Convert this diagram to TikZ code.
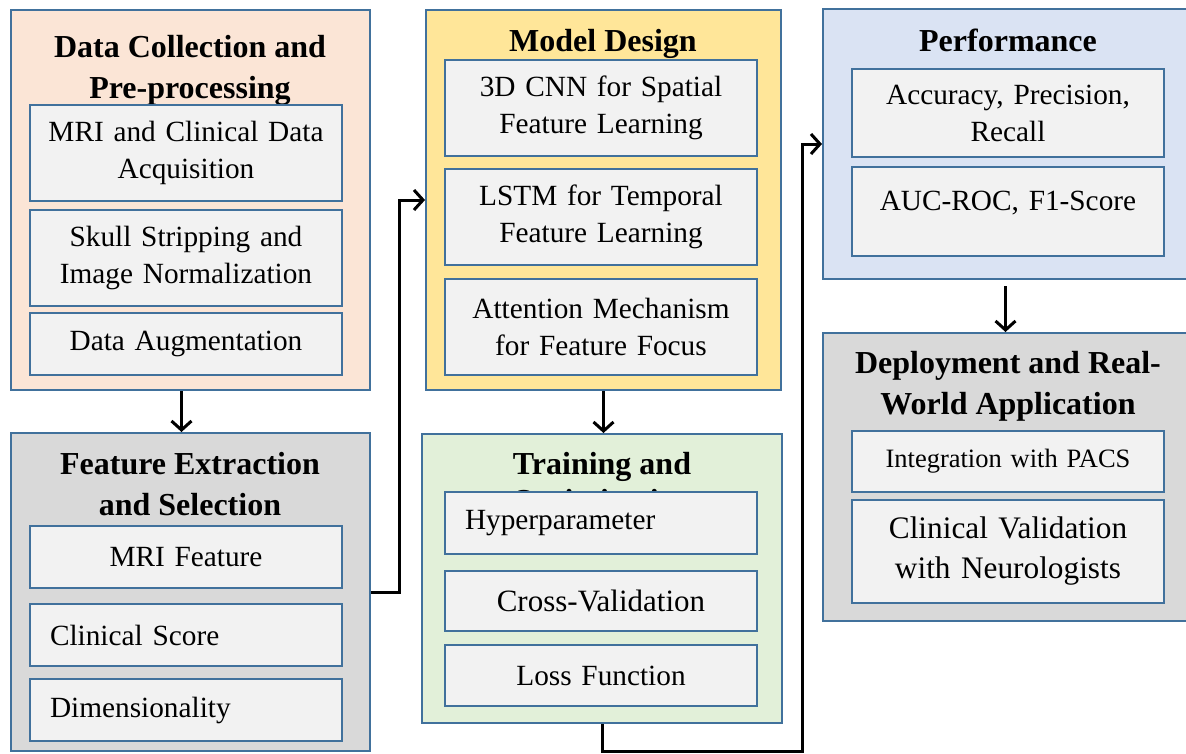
\documentclass[tikz,border=0pt]{standalone}
\usepackage{fontspec}
\setmainfont{Liberation Serif}
\usepackage{tikz}
\usetikzlibrary{arrows.meta}
\usepackage{xcolor}
\definecolor{edgeblue}{RGB}{65,113,156}
\definecolor{peach}{HTML}{FBE5D6}
\definecolor{ltgray}{HTML}{D9D9D9}
\definecolor{gold}{HTML}{FFE699}
\definecolor{mint}{HTML}{E2F0D9}
\definecolor{skyblue}{HTML}{DAE3F3}
\definecolor{paper}{HTML}{F2F2F2}

\begin{document}
\begin{tikzpicture}[x=1pt,y=-1pt]
    \tikzstyle{outer}=[draw=edgeblue,line width=2pt,inner sep=0]
    \tikzstyle{inner}=[draw=edgeblue,line width=2pt,fill=paper,text width=292pt,inner xsep=10pt,inner ysep=0,align=center,font=\fontsize{29.3}{37}\selectfont]
    \tikzstyle{innerleft}=[inner,text width=272pt,inner xsep=20pt,align=left]
    \tikzstyle{head}=[align=center,font=\fontsize{32}{41}\selectfont\bfseries]
    \tikzstyle{flow}=[line width=3pt,-{Straight Barb[length=9pt,width=20pt]}]
    \useasboundingbox (0,0) rectangle (1186,753);
    % left column
    \node[outer,fill=peach,minimum width=359pt,minimum height=380pt] (dcp) at (190.5,200) {};
    \node[head] (dcpt) at (190,70.5) {Data Collection and\\Pre-processing};
    \node[inner,minimum height=96pt] (acq) at (186,153) {MRI and Clinical Data\\Acquisition};
    \node[inner,minimum height=96pt] (skull) at (186,258) {Skull Stripping and\\Image Normalization};
    \node[inner,minimum height=62pt] (aug) at (186,344) {Data Augmentation};
    \node[outer,fill=ltgray,minimum width=359pt,minimum height=318pt] (fes) at (190.5,592) {};
    \node[head] (fest) at (190,484) {Feature Extraction\\and Selection};
    \node[inner,minimum height=62pt] (mri) at (186,557) {MRI Feature};
    \node[innerleft,minimum height=62pt] (score) at (186,635) {Clinical Score};
    \node[innerleft,minimum height=62pt] (dim) at (186,710) {Dimensionality};
    % middle column
    \node[outer,fill=gold,minimum width=355pt,minimum height=380pt] (md) at (603.5,200) {};
    \node[head] (mdt) at (603,44) {Model Design};
    \node[inner,minimum height=96pt] (cnn) at (601,108) {3D CNN for Spatial\\Feature Learning};
    \node[inner,minimum height=96pt] (lstm) at (601,217) {LSTM for Temporal\\Feature Learning};
    \node[inner,minimum height=96pt] (att) at (601,327) {Attention Mechanism\\for Feature Focus};
    \node[outer,fill=mint,minimum width=360pt,minimum height=289pt] (tr) at (602,578.5) {};
    \node[head] (trt) at (602,485) {Training and\\[-4pt]Optimization};
    \node[innerleft,minimum height=62pt] (hyp) at (601,523) {Hyperparameter};
    \node[inner,minimum height=60pt,font=\fontsize{31}{37}\selectfont] (cv) at (601,601) {Cross-Validation};
    \node[inner,minimum height=61pt] (loss) at (601,675.5) {Loss Function};
    % right column
    \node[outer,fill=skyblue,minimum width=365pt,minimum height=270pt] (perf) at (1005.5,144) {};
    \node[head] (perft) at (1008,40) {Performance};
    \node[inner,minimum height=88pt] (acc) at (1008,113) {Accuracy, Precision,\\Recall};
    \node[inner,minimum height=89pt] (auc) at (1008,211.5) {AUC-ROC, F1-Score\\[-16pt]\mbox{}};
    \node[outer,fill=ltgray,minimum width=365pt,minimum height=288pt] (dep) at (1005.5,477) {};
    \node[head] (dept) at (1008,386.5) {Deployment and Real-\\World Application};
    \node[inner,minimum height=61pt,font=\fontsize{26.5}{37}\selectfont] (pacs) at (1008,461.5) {Integration with PACS};
    \node[inner,minimum height=103pt,font=\fontsize{31.3}{40}\selectfont] (neuro) at (1008,551.5) {Clinical Validation\\with Neurologists};
    % connectors
    \coordinate (bend) at (802,751);
    \draw[flow] ([xshift=-9pt]dcp.south) -- ([xshift=-9pt]fes.north);
    \draw[flow] (fes.east) -- ++(28,0) |- (md.west);
    \draw[flow] (md.south) -- (md.south |- tr.north);
    \draw[flow] (tr.south) |- (bend) |- (perf.west);
    \draw[flow,shorten <=6pt] (perf.south) -- (dep.north);
\end{tikzpicture}
\end{document}
